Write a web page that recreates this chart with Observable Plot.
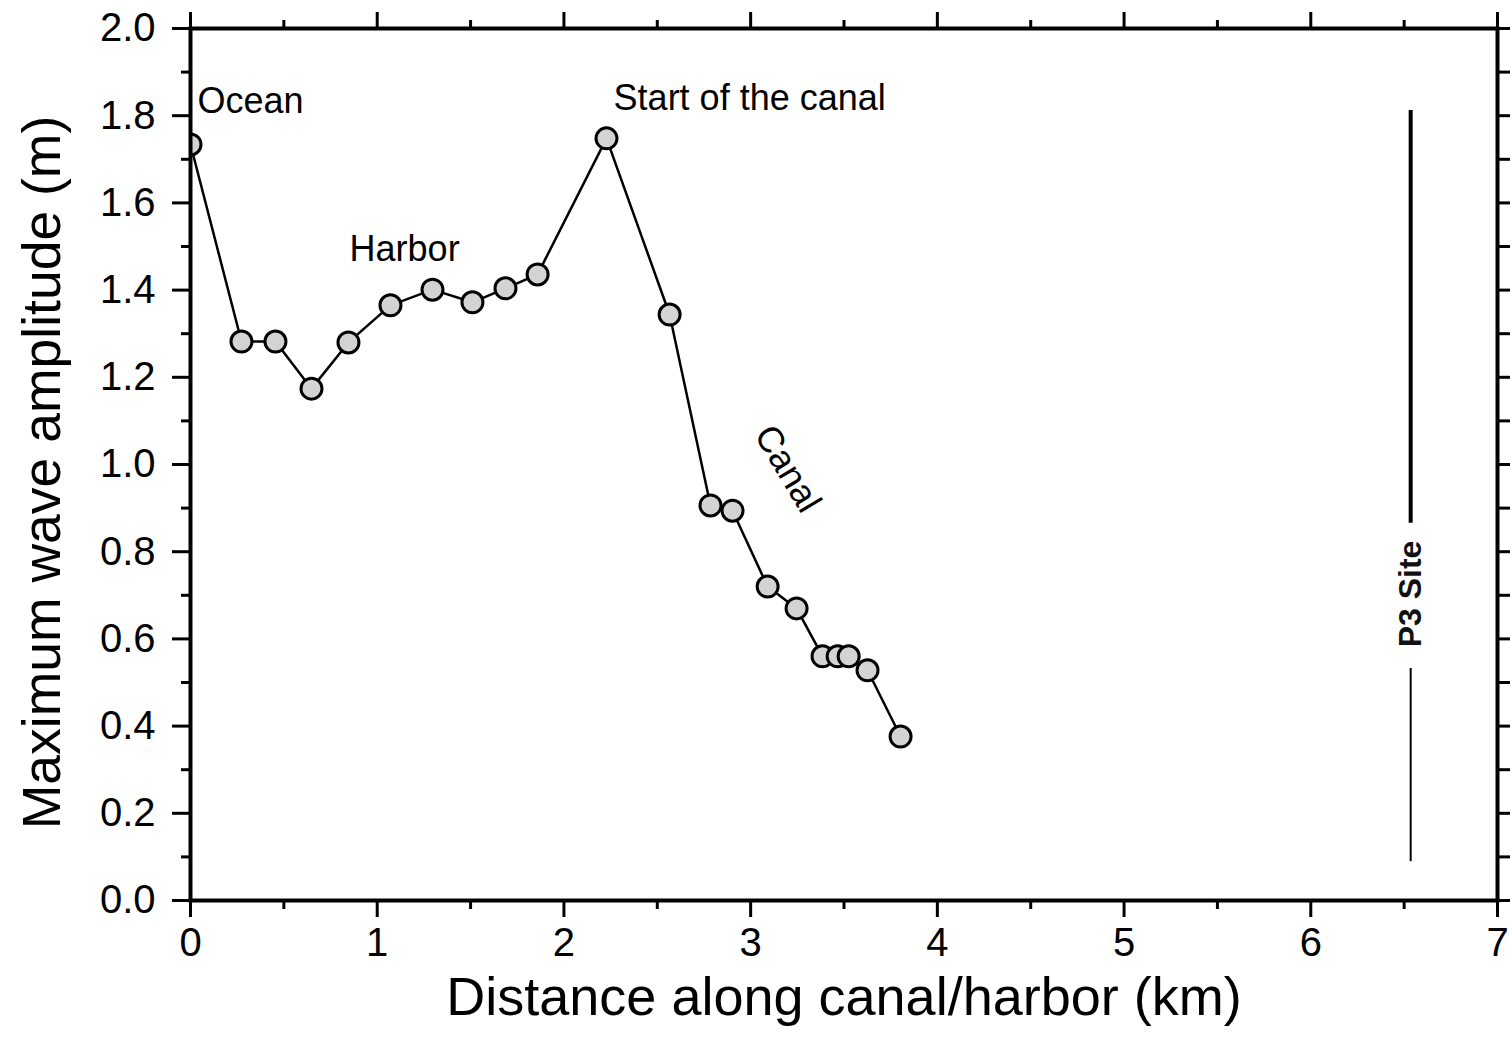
<!DOCTYPE html>
<html>
<head>
<meta charset="utf-8">
<script src="https://cdn.jsdelivr.net/npm/d3@7"></script>
<script src="https://cdn.jsdelivr.net/npm/@observablehq/plot@0.6"></script>
<style>
  html, body { margin: 0; padding: 0; background: #fff; }
  #chart svg { display: block; }
</style>
</head>
<body>
<div id="chart"></div>
<script>
// ---- data ----
const distanceKm = [0, 0.273, 0.455, 0.648, 0.846, 1.071, 1.296, 1.510, 1.687, 1.859, 2.228, 2.566, 2.785, 2.903, 3.091, 3.246, 3.385, 3.466, 3.525, 3.626, 3.803];
const amplitudeM = [1.734, 1.282, 1.282, 1.174, 1.280, 1.365, 1.401, 1.372, 1.404, 1.436, 1.748, 1.344, 0.906, 0.894, 0.720, 0.670, 0.560, 0.560, 0.560, 0.528, 0.376];

const xMajorTicks = [0, 1, 2, 3, 4, 5, 6, 7];
const xMinorTicks = [0.5, 1.5, 2.5, 3.5, 4.5, 5.5, 6.5];
const yMajorTicks = [0, 0.2, 0.4, 0.6, 0.8, 1.0, 1.2, 1.4, 1.6, 1.8, 2.0];
const yMinorTicks = [0.1, 0.3, 0.5, 0.7, 0.9, 1.1, 1.3, 1.5, 1.7, 1.9];

const labelTexts = ["Ocean", "Harbor", "Start of the canal"];
const labelX = [0.037, 0.852, 2.266];
const labelY = [1.833, 1.493, 1.839];

const canalText = "Canal";
const canalX = 3.198;
const canalY = 0.99;

const p3SiteText = "P3 Site";
const p3SiteX = 6.535;
const p3UpperSegment = [0.865, 1.812];
const p3LowerSegment = [0.089, 0.532];
const p3LabelY = 0.703;

const xTitle = "Distance along canal/harbor (km)";
const yTitle = "Maximum wave amplitude (m)";

// ---- build tables ----
const points = distanceKm.map((d, i) => ({x: d, y: amplitudeM[i]}));
const labels = labelTexts.map((t, i) => ({text: t, x: labelX[i], y: labelY[i]}));

const font = "'Liberation Sans', Arial, Helvetica, sans-serif";
const tickW = 3;

const chart = Plot.plot({
  width: 1510,
  height: 1056,
  marginLeft: 190,
  marginRight: 13,
  marginTop: 28,
  marginBottom: 156,
  style: {fontFamily: font, fontSize: "40px", color: "#000", background: "#fff", overflow: "visible"},
  x: {domain: [0, 7], axis: null},
  y: {domain: [0, 2], axis: null},
  marks: [
    // bottom axis
    Plot.axisX({anchor: "bottom", ticks: xMajorTicks, tickSize: 17, tickPadding: 10, tickFormat: d3.format("d"), strokeWidth: tickW, fontSize: 40, label: null}),
    Plot.axisX({anchor: "bottom", ticks: xMinorTicks, tickSize: 9, tickFormat: () => "", strokeWidth: tickW, label: null}),
    // top axis
    Plot.axisX({anchor: "top", ticks: xMajorTicks, tickSize: 17, tickFormat: () => "", strokeWidth: tickW, label: null}),
    Plot.axisX({anchor: "top", ticks: xMinorTicks, tickSize: 9, tickFormat: () => "", strokeWidth: tickW, label: null}),
    // left axis
    Plot.axisY({anchor: "left", ticks: yMajorTicks, tickSize: 18, tickPadding: 17, tickFormat: d3.format(".1f"), strokeWidth: tickW, fontSize: 40, label: null}),
    Plot.axisY({anchor: "left", ticks: yMinorTicks, tickSize: 9, tickFormat: () => "", strokeWidth: tickW, label: null}),
    // right axis
    Plot.axisY({anchor: "right", ticks: yMajorTicks.concat(yMinorTicks), tickSize: 14, tickFormat: () => "", strokeWidth: tickW, label: null}),

    // P3 site marker
    Plot.ruleX([p3SiteX], {y1: p3UpperSegment[0], y2: p3UpperSegment[1], stroke: "#000", strokeWidth: 4}),
    Plot.ruleX([p3SiteX], {y1: p3LowerSegment[0], y2: p3LowerSegment[1], stroke: "#000", strokeWidth: 2}),
    Plot.text([p3SiteText], {x: p3SiteX, y: p3LabelY, text: d => d, rotate: -90, fontSize: 32, fontWeight: "bold", textAnchor: "middle", lineAnchor: "middle", fill: "#111"}),

    // data
    Plot.line(points, {x: "x", y: "y", stroke: "#000", strokeWidth: 2.5}),
    Plot.dot(points, {x: "x", y: "y", r: 10.5, fill: "#d3d3d3", stroke: "#000", strokeWidth: 3, clip: true}),

    // annotations
    Plot.text(labels, {x: "x", y: "y", text: "text", textAnchor: "start", lineAnchor: "middle", fontSize: 36, fill: "#000"}),
    Plot.text([canalText], {x: canalX, y: canalY, text: d => d, rotate: 59, fontSize: 36, textAnchor: "middle", lineAnchor: "middle", fill: "#000"}),

    // axis titles
    Plot.text([xTitle], {frameAnchor: "bottom", dy: 97, text: d => d, fontSize: 54, lineAnchor: "middle", textAnchor: "middle", fill: "#000"}),
    Plot.text([yTitle], {frameAnchor: "left", dx: -148, dy: 8, rotate: -90, text: d => d, fontSize: 53.5, lineAnchor: "middle", textAnchor: "middle", fill: "#000"}),

    // frame
    Plot.frame({stroke: "#000", strokeWidth: 4})
  ]
});

document.getElementById("chart").appendChild(chart);
</script>
</body>
</html>
